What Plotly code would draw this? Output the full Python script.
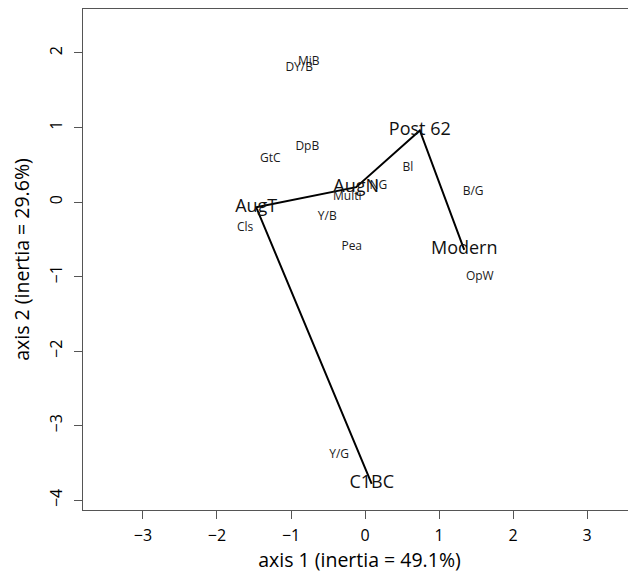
import plotly.graph_objects as go

# Path (period points) in chronological order
period_labels = ["C1BC", "AugT", "AugN", "Post 62", "Modern"]
period_x = [0.09, -1.47, -0.12, 0.74, 1.34]
period_y = [-3.78, -0.07, 0.20, 0.96, -0.64]

# Category labels
cat_labels = ["MiB", "DY/B", "GtC", "DpB", "Bl", "B/G", "NG", "Multi",
              "Y/B", "Cls", "Pea", "OpW", "Y/G"]
cat_x = [-0.76, -0.89, -1.28, -0.78, 0.58, 1.46, 0.18, -0.24,
         -0.51, -1.62, -0.18, 1.55, -0.35]
cat_y = [1.88, 1.80, 0.58, 0.74, 0.46, 0.13, 0.21, 0.07,
         -0.20, -0.35, -0.60, -1.00, -3.39]

x_ticks = [-3, -2, -1, 0, 1, 2, 3]
y_ticks = [-4, -3, -2, -1, 0, 1, 2]

FONT = "Open Sans"

fig = go.Figure()
fig.add_trace(go.Scatter(x=period_x, y=period_y, mode="lines",
                         line=dict(color="black", width=2), hoverinfo="skip"))
fig.add_trace(go.Scatter(x=cat_x, y=cat_y, mode="text", text=cat_labels,
                         textposition="middle center",
                         textfont=dict(family=FONT, size=12, color="#1a1a1a")))
fig.add_trace(go.Scatter(x=period_x, y=period_y, mode="text", text=period_labels,
                         textposition="middle center",
                         textfont=dict(family=FONT, size=18, color="#111")))

fig.update_layout(
    width=628, height=569,
    margin=dict(l=75, r=0, t=1, b=67),
    paper_bgcolor="white", plot_bgcolor="white",
    showlegend=False,
    font=dict(family=FONT, color="black"),
)
fig.update_xaxes(range=[-3.81, 3.66], showgrid=False, zeroline=False,
                 showline=True, linecolor="#555", linewidth=1, mirror=True,
                 ticks="outside", ticklen=8, tickcolor="#555",
                 ticklabelstandoff=3,
                 tickvals=x_ticks, tickfont=dict(size=16, family=FONT, color="black"),
                 title=dict(text="axis 1 (inertia = 49.1%)",
                            font=dict(size=19.5, family=FONT), standoff=8))
fig.update_yaxes(range=[-4.13, 2.59], showgrid=False, zeroline=False,
                 showline=True, linecolor="#555", linewidth=1, mirror=False,
                 ticks="outside", ticklen=8, tickcolor="#555",
                 ticklabelstandoff=6,
                 tickvals=y_ticks, tickangle=-90,
                 tickfont=dict(size=16, family=FONT, color="black"),
                 title=dict(text="axis 2 (inertia = 29.6%)",
                            font=dict(size=19.5, family=FONT), standoff=10))

fig.write_html("out.html")
